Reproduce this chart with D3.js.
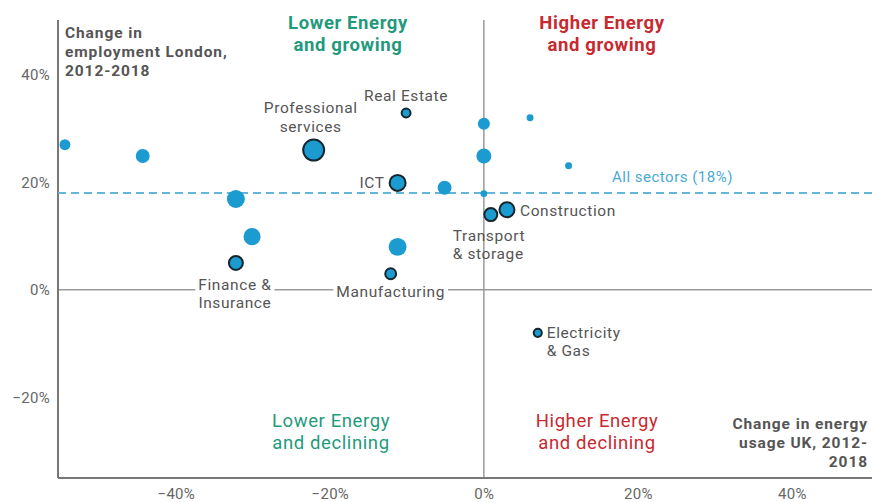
<!DOCTYPE html>
<html lang="en">
<head>
<meta charset="UTF-8">
<title>Energy vs employment</title>
<script src="https://d3js.org/d3.v7.min.js"></script>
<style>
  body { margin: 0; background: #fff; }
  svg { font-family: Roboto, "Open Sans", sans-serif; }
</style>
</head>
<body>
<div id="chart"></div>
<script>
// sectors: change in UK energy usage (x, %), change in London employment (y, %), relative size
var sectorNames = ["", "", "", "", "Finance & Insurance", "Professional services", "Real Estate", "ICT",
                   "", "Manufacturing", "", "", "", "", "", "", "Transport & storage", "Construction", "Electricity & Gas"];
var energyChange = [-54.4, -44.3, -32.2, -30.1, -32.2, -22.1, -10.1, -11.2, -11.2, -12.1, -5.1, 0, 0, 0, 6.0, 11.0, 0.9, 3.0, 7.0];
var jobsChange   = [27.0, 24.9, 16.9, 9.9, 5.0, 26.0, 32.9, 19.9, 8.0, 3.0, 19.0, 30.9, 24.9, 17.9, 32.0, 23.1, 14.0, 14.9, -8.0];
var sectorSize   = [27, 44, 73, 66, 44, 100, 18, 58, 73, 27, 44, 33, 51, 10, 11, 11, 38, 51, 15];
var allSectors = 18;
var xTicks = [-40, -20, 0, 20, 40];
var yTicks = [-20, 0, 20, 40];

var width = 872, height = 502;
var mLeft = 58, mRight = 872, mTop = 20, mBottom = 478;

var svg = d3.select("#chart").append("svg")
    .attr("width", width)
    .attr("height", height);

var x = d3.scaleLinear().domain([-55.3, 50.4]).range([mLeft, mRight]);
var y = d3.scaleLinear().domain([-35, 50.2]).range([mBottom, mTop]);
var r = d3.scaleSqrt().domain([0, 100]).range([0, 10.5]);

var pct = function(d) { return (d < 0 ? "\u2212" : "") + Math.abs(d) + "%"; };

// zero lines
svg.append("line")
    .attr("x1", mLeft).attr("x2", mRight)
    .attr("y1", y(0)).attr("y2", y(0))
    .attr("stroke", "#9a9a9a").attr("stroke-width", 1.5);
svg.append("line")
    .attr("x1", x(0)).attr("x2", x(0))
    .attr("y1", mTop).attr("y2", mBottom)
    .attr("stroke", "#9a9a9a").attr("stroke-width", 1.5);

// axes
var xAxis = svg.append("g")
    .attr("transform", "translate(0," + mBottom + ")")
    .call(d3.axisBottom(x).tickValues(xTicks).tickSize(0).tickPadding(10).tickFormat(pct));
var yAxis = svg.append("g")
    .attr("transform", "translate(" + mLeft + ",0)")
    .call(d3.axisLeft(y).tickValues(yTicks).tickSize(0).tickPadding(8).tickFormat(pct));
[xAxis, yAxis].forEach(function(g) {
    g.select(".domain").attr("stroke", "#777").attr("stroke-width", 2);
    g.selectAll("text").attr("fill", "#666")
        .style("font-size", "15px").style("letter-spacing", "0.3px")
        .style("font-family", "Roboto, sans-serif");
});
yAxis.select(".domain").attr("d", "M0," + mTop + "V" + mBottom);
xAxis.select(".domain").attr("d", "M" + mLeft + ",0H" + mRight);

// all sectors line
svg.append("line")
    .attr("x1", mLeft).attr("x2", mRight)
    .attr("y1", y(allSectors)).attr("y2", y(allSectors))
    .attr("stroke", "#62b6d8").attr("stroke-width", 2)
    .attr("stroke-dasharray", "8,5");
svg.append("text")
    .attr("x", 612).attr("y", y(allSectors) - 11)
    .attr("fill", "#4aaad4").style("font-size", "15px").style("letter-spacing", "0.5px")
    .text("All sectors (" + allSectors + "%)");

// quadrant titles
var quadrants = [
    { lines: ["Lower Energy", "and growing"], cx: 348, cy: 29, color: "#1f9a7c", weight: "bold" },
    { lines: ["Higher Energy", "and growing"], cx: 602, cy: 29, color: "#c8292f", weight: "bold" },
    { lines: ["Lower Energy", "and declining"], cx: 331, cy: 427, color: "#1f9a7c", weight: "normal" },
    { lines: ["Higher Energy", "and declining"], cx: 597, cy: 427, color: "#c8292f", weight: "normal" }
];
quadrants.forEach(function(q) {
    var t = svg.append("text")
        .attr("text-anchor", "middle")
        .attr("fill", q.color)
        .style("font-size", "18.5px")
        .style("letter-spacing", "0.6px")
        .style("font-weight", q.weight);
    q.lines.forEach(function(l, i) {
        t.append("tspan").attr("x", q.cx).attr("y", q.cy + i * 22).text(l);
    });
});

// axis titles
var yt = svg.append("text").attr("fill", "#555")
    .style("font-size", "15.5px").style("font-weight", "bold").style("letter-spacing", "0.9px");
["Change in", "employment London,", "2012-2018"].forEach(function(l, i) {
    yt.append("tspan").attr("x", 65).attr("y", 38 + i * 19).text(l);
});
var xt = svg.append("text").attr("fill", "#555")
    .style("font-size", "15.5px").style("font-weight", "bold").style("letter-spacing", "0.9px")
    .attr("text-anchor", "end");
["Change in energy", "usage UK, 2012-", "2018"].forEach(function(l, i) {
    xt.append("tspan").attr("x", 868).attr("y", 429 + i * 19).text(l);
});

// bubbles
var data = sectorNames.map(function(n, i) {
    return { name: n, x: energyChange[i], y: jobsChange[i], size: sectorSize[i] };
});
svg.selectAll("circle.bubble")
    .data(data)
    .enter().append("circle")
    .attr("class", "bubble")
    .attr("cx", function(d) { return x(d.x); })
    .attr("cy", function(d) { return y(d.y); })
    .attr("r", function(d) { return r(d.size); })
    .attr("fill", "#1b9bd0")
    .attr("stroke", function(d) { return d.name ? "#15262e" : "none"; })
    .attr("stroke-width", 2);

// sector labels: offsets from the bubble
var labelPos = {
    "Real Estate": { dx: 0, dy: -12, anchor: "middle", lines: ["Real Estate"] },
    "Professional services": { dx: -3, dy: -37, anchor: "middle", lines: ["Professional", "services"] },
    "ICT": { dx: -13, dy: 5, anchor: "end", lines: ["ICT"] },
    "Construction": { dx: 13, dy: 6, anchor: "start", lines: ["Construction"] },
    "Transport & storage": { dx: -38, dy: 26, anchor: "start", lines: ["Transport", "& storage"] },
    "Finance & Insurance": { dx: -1, dy: 27, anchor: "middle", lines: ["Finance &", "Insurance"], bg: true },
    "Manufacturing": { dx: 0, dy: 23, anchor: "middle", lines: ["Manufacturing"], bg: true },
    "Electricity & Gas": { dx: 9, dy: 5, anchor: "start", lines: ["Electricity", "& Gas"] }
};
data.filter(function(d) { return d.name; }).forEach(function(d) {
    var p = labelPos[d.name];
    var g = svg.append("g");
    var t = g.append("text")
        .attr("text-anchor", p.anchor)
        .attr("fill", "#555")
        .style("font-size", "15.5px")
        .style("letter-spacing", "0.6px");
    p.lines.forEach(function(l, i) {
        t.append("tspan").attr("x", x(d.x) + p.dx).attr("y", y(d.y) + p.dy + i * 18.5).text(l);
    });
    if (p.bg) {
        var b = t.node().getBBox();
        g.insert("rect", "text")
            .attr("x", b.x - 3).attr("y", b.y)
            .attr("width", b.width + 6).attr("height", b.height)
            .attr("fill", "#fff");
    }
});
</script>
</body>
</html>
